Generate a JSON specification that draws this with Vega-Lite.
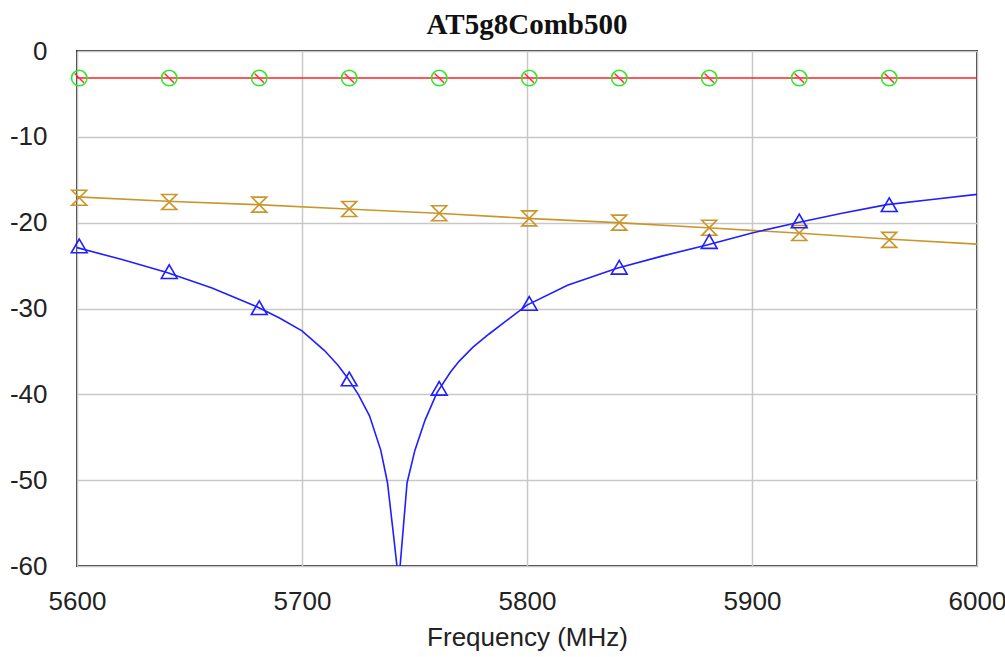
{
  "$schema": "https://vega.github.io/schema/vega-lite/v6.json",
  "width": 900,
  "height": 515,
  "autosize": "none",
  "padding": {"left": 77, "top": 51, "right": 28, "bottom": 91},
  "background": "white",
  "title": {"text": "AT5g8Comb500", "font": "Liberation Serif", "fontSize": 29, "fontWeight": "bold", "color": "#111", "offset": -2},
  "config": {
    "view": {"stroke": "#333", "strokeWidth": 2},
    "axis": {"grid": true, "gridColor": "#c8c8c8", "gridWidth": 1.5, "domain": false, "ticks": false,
      "labelFont": "Liberation Sans", "labelFontSize": 26, "labelColor": "#222",
      "titleFont": "Liberation Sans", "titleFontSize": 26, "titleFontWeight": "normal", "titleColor": "#222"}
  },
  "datasets": {
    "lines": [
      {"series": "S21", "freq": 5600, "db": -3.15},
      {"series": "S21", "freq": 6000, "db": -3.15},
      {"series": "S22", "freq": 5600, "db": -17.0},
      {"series": "S22", "freq": 5640, "db": -17.5},
      {"series": "S22", "freq": 5680, "db": -17.9},
      {"series": "S22", "freq": 5720, "db": -18.4},
      {"series": "S22", "freq": 5760, "db": -18.9},
      {"series": "S22", "freq": 5800, "db": -19.5},
      {"series": "S22", "freq": 5840, "db": -20.0},
      {"series": "S22", "freq": 5880, "db": -20.6},
      {"series": "S22", "freq": 5920, "db": -21.2},
      {"series": "S22", "freq": 5960, "db": -21.9},
      {"series": "S22", "freq": 6000, "db": -22.5},
      {"series": "S11", "freq": 5600, "db": -22.9},
      {"series": "S11", "freq": 5620, "db": -24.3},
      {"series": "S11", "freq": 5640, "db": -25.8},
      {"series": "S11", "freq": 5660, "db": -27.6},
      {"series": "S11", "freq": 5680, "db": -29.8},
      {"series": "S11", "freq": 5690, "db": -31.1},
      {"series": "S11", "freq": 5700, "db": -32.6},
      {"series": "S11", "freq": 5710, "db": -34.9},
      {"series": "S11", "freq": 5716, "db": -36.6},
      {"series": "S11", "freq": 5720, "db": -38.0},
      {"series": "S11", "freq": 5725, "db": -40.0},
      {"series": "S11", "freq": 5730, "db": -42.5},
      {"series": "S11", "freq": 5735, "db": -46.5},
      {"series": "S11", "freq": 5738, "db": -50.3},
      {"series": "S11", "freq": 5740.5, "db": -56.0},
      {"series": "S11", "freq": 5742.2, "db": -60.0},
      {"series": "S11", "freq": 5742.9, "db": -62.0},
      {"series": "S11", "freq": 5743.6, "db": -60.0},
      {"series": "S11", "freq": 5746.7, "db": -50.3},
      {"series": "S11", "freq": 5750.2, "db": -46.5},
      {"series": "S11", "freq": 5754.7, "db": -43.0},
      {"series": "S11", "freq": 5760, "db": -39.8},
      {"series": "S11", "freq": 5766, "db": -37.4},
      {"series": "S11", "freq": 5770, "db": -36.1},
      {"series": "S11", "freq": 5776, "db": -34.5},
      {"series": "S11", "freq": 5783, "db": -33.0},
      {"series": "S11", "freq": 5790, "db": -31.6},
      {"series": "S11", "freq": 5800, "db": -29.6},
      {"series": "S11", "freq": 5818, "db": -27.3},
      {"series": "S11", "freq": 5840, "db": -25.3},
      {"series": "S11", "freq": 5860, "db": -23.9},
      {"series": "S11", "freq": 5880, "db": -22.6},
      {"series": "S11", "freq": 5900, "db": -21.2},
      {"series": "S11", "freq": 5920, "db": -20.0},
      {"series": "S11", "freq": 5940, "db": -18.9},
      {"series": "S11", "freq": 5960, "db": -17.9},
      {"series": "S11", "freq": 5980, "db": -17.3},
      {"series": "S11", "freq": 6000, "db": -16.7}
    ],
    "markers": [
      {"series": "S21", "freq": 5601, "db": -3.15},
      {"series": "S21", "freq": 5641, "db": -3.15},
      {"series": "S21", "freq": 5681, "db": -3.15},
      {"series": "S21", "freq": 5721, "db": -3.15},
      {"series": "S21", "freq": 5761, "db": -3.15},
      {"series": "S21", "freq": 5801, "db": -3.15},
      {"series": "S21", "freq": 5841, "db": -3.15},
      {"series": "S21", "freq": 5881, "db": -3.15},
      {"series": "S21", "freq": 5921, "db": -3.15},
      {"series": "S21", "freq": 5961, "db": -3.15},
      {"series": "S22", "freq": 5601, "db": -17.1},
      {"series": "S22", "freq": 5641, "db": -17.6},
      {"series": "S22", "freq": 5681, "db": -17.9},
      {"series": "S22", "freq": 5721, "db": -18.4},
      {"series": "S22", "freq": 5761, "db": -18.9},
      {"series": "S22", "freq": 5801, "db": -19.5},
      {"series": "S22", "freq": 5841, "db": -20.0},
      {"series": "S22", "freq": 5881, "db": -20.6},
      {"series": "S22", "freq": 5921, "db": -21.2},
      {"series": "S22", "freq": 5961, "db": -22.0},
      {"series": "S11", "freq": 5601, "db": -22.7},
      {"series": "S11", "freq": 5641, "db": -25.7},
      {"series": "S11", "freq": 5681, "db": -29.9},
      {"series": "S11", "freq": 5721, "db": -38.2},
      {"series": "S11", "freq": 5761, "db": -39.3},
      {"series": "S11", "freq": 5801, "db": -29.4},
      {"series": "S11", "freq": 5841, "db": -25.2},
      {"series": "S11", "freq": 5881, "db": -22.2},
      {"series": "S11", "freq": 5921, "db": -19.8},
      {"series": "S11", "freq": 5961, "db": -17.9}
    ]
  },
  "encoding": {
    "x": {"field": "freq", "type": "quantitative", "scale": {"domain": [5600, 6000], "nice": false, "zero": false},
      "axis": {"values": [5600, 5700, 5800, 5900, 6000], "labelExpr": "datum.value + ''", "title": "Frequency (MHz)", "labelPadding": 22, "titlePadding": 10, "labelFlush": false}},
    "y": {"field": "db", "type": "quantitative", "scale": {"domain": [-60, 0], "nice": false, "zero": false},
      "axis": {"values": [-60, -50, -40, -30, -20, -10, 0], "labelExpr": "datum.value + ''", "title": null, "labelPadding": 30, "labelFlush": false}}
  },
  "layer": [
    {
      "data": {"name": "lines"},
      "mark": {"type": "line", "clip": true, "strokeWidth": 1.6},
      "encoding": {
        "color": {"field": "series", "type": "nominal", "scale": {"domain": ["S11", "S21", "S22"], "range": ["#1f1fff", "#ff2020", "#c9962c"]}, "legend": null},
        "detail": {"field": "series"}
      }
    },
    {
      "data": {"name": "markers"},
      "transform": [{"filter": "datum.series === 'S21'"}],
      "mark": {"type": "point", "shape": "circle", "filled": false, "stroke": "#2ee82e", "strokeWidth": 1.6, "size": 240, "opacity": 1},
      "encoding": {}
    },
    {
      "data": {"name": "markers"},
      "transform": [{"filter": "datum.series === 'S21'"}],
      "mark": {"type": "point", "shape": "M-0.6,-0.6L0.6,0.6", "filled": false, "stroke": "#ff3030", "strokeWidth": 1.4, "size": 240, "opacity": 1},
      "encoding": {}
    },
    {
      "data": {"name": "markers"},
      "transform": [{"filter": "datum.series === 'S22'"}],
      "mark": {"type": "point", "shape": "M-1,-1L1,-1L-1,1L1,1Z", "filled": false, "stroke": "#c9962c", "strokeWidth": 1.6, "size": 225, "opacity": 1},
      "encoding": {}
    },
    {
      "data": {"name": "markers"},
      "transform": [{"filter": "datum.series === 'S11'"}],
      "mark": {"type": "point", "shape": "triangle-up", "filled": false, "stroke": "#1f1fff", "strokeWidth": 1.6, "size": 250, "opacity": 1},
      "encoding": {}
    }
  ]
}
